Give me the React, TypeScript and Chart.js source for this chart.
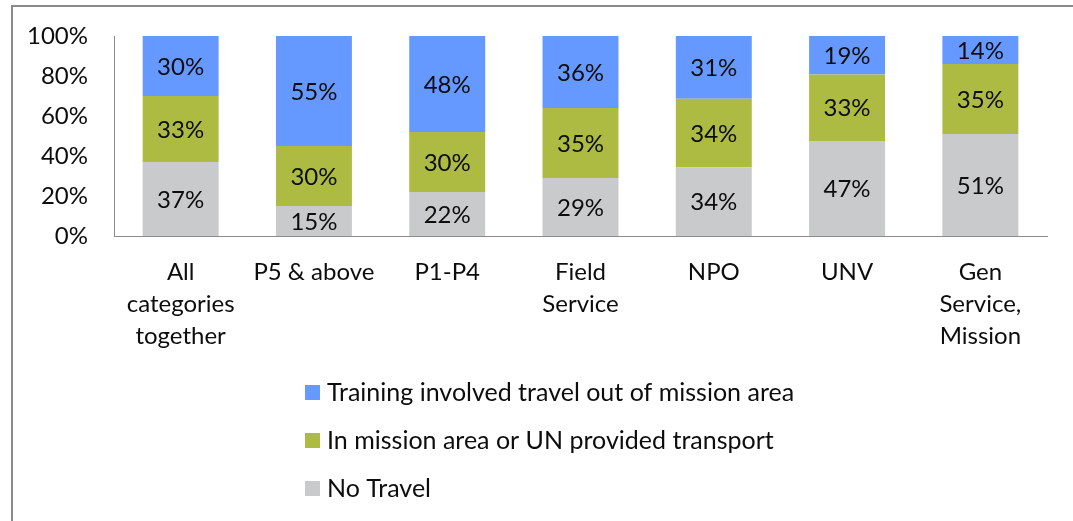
import React, { useEffect, useRef } from "react";
import { Chart, registerables } from "chart.js";

Chart.register(...registerables);

const categories: (string | string[])[] = [
  ["All", "categories", "together"],
  "P5 & above",
  "P1-P4",
  ["Field", "Service"],
  "NPO",
  "UNV",
  ["Gen", "Service,", "Mission"],
];
const noTravel = [37, 15, 22, 29, 34, 47, 51];
const inMission = [33, 30, 30, 35, 34, 33, 35];
const outOfMission = [30, 55, 48, 36, 31, 19, 14];
const seriesLabels = [
  "No Travel",
  "In mission area or UN provided transport",
  "Training involved travel out of mission area",
];
const seriesColors = ["#C9CACC", "#AEBB43", "#6699FF"];
const legendOrder = [2, 1, 0];

const FONT = "Lato";
const FS = 24;
const LEGEND_FS = 25;
const TEXT = "#0d0d0d";

export default function App() {
  const ref = useRef<HTMLCanvasElement | null>(null);

  useEffect(() => {
    if (!ref.current) return;
    const raw = [noTravel, inMission, outOfMission];
    const totals = noTravel.map((_, i) => noTravel[i] + inMission[i] + outOfMission[i]);

    const framePlugin = {
      id: "frame",
      beforeDraw(chart: any) {
        const ctx = chart.ctx;
        ctx.save();
        ctx.strokeStyle = "#8a8a8a";
        ctx.lineWidth = 2;
        ctx.beginPath();
        ctx.moveTo(12, 540);
        ctx.lineTo(12, 6);
        ctx.lineTo(1090, 6);
        ctx.stroke();
        ctx.restore();
      },
    };

    const labelPlugin = {
      id: "valueLabels",
      afterDatasetsDraw(chart: any) {
        const ctx = chart.ctx;
        ctx.save();
        ctx.font = `${FS}px ${FONT}`;
        ctx.fillStyle = TEXT;
        ctx.textAlign = "center";
        ctx.textBaseline = "middle";
        chart.data.datasets.forEach((ds: any, di: number) => {
          const meta = chart.getDatasetMeta(di);
          meta.data.forEach((el: any, i: number) => {
            const cy = (el.y + el.base) / 2;
            ctx.fillText(`${raw[di][i]}%`, el.x, cy + 1);
          });
        });
        ctx.restore();
      },
    };

    const legendPlugin = {
      id: "customLegend",
      afterDraw(chart: any) {
        const ctx = chart.ctx;
        ctx.save();
        ctx.font = `${LEGEND_FS}px ${FONT}`;
        ctx.textBaseline = "middle";
        ctx.textAlign = "left";
        const rows = [392, 440, 488];
        legendOrder.forEach((di, r) => {
          const ds = chart.data.datasets[di];
          ctx.fillStyle = ds.backgroundColor;
          ctx.fillRect(305, rows[r] - 7, 15, 15);
          ctx.fillStyle = TEXT;
          ctx.fillText(ds.label, 327, rows[r] + 1);
        });
        ctx.restore();
      },
    };

    const chart = new Chart(ref.current, {
      type: "bar",
      data: {
        labels: categories,
        datasets: raw.map((arr, di) => ({
          label: seriesLabels[di],
          data: arr.map((v, i) => (v / totals[i]) * 100),
          backgroundColor: seriesColors[di],
          borderWidth: 0,
          categoryPercentage: 0.57,
          barPercentage: 1,
        })),
      },
      options: {
        responsive: false,
        animation: false,
        layout: { padding: { top: 36, left: 0, right: 26, bottom: 0 } },
        plugins: {
          legend: { display: false },
          tooltip: { enabled: false },
          title: { display: false },
        },
        scales: {
          x: {
            stacked: true,
            grid: { display: false, drawTicks: false },
            border: { display: true, color: "#8c8c8c", width: 1 },
            ticks: {
              color: TEXT,
              font: { family: FONT, size: FS, lineHeight: "32px" },
              padding: 20,
              maxRotation: 0,
              autoSkip: false,
            },
            afterFit(scale: any) {
              scale.height = 285;
            },
          },
          y: {
            stacked: true,
            min: 0,
            max: 100,
            grid: { display: false, drawTicks: false },
            border: { display: true, color: "#8c8c8c", width: 1 },
            ticks: {
              stepSize: 20,
              color: TEXT,
              font: { family: FONT, size: FS },
              padding: 26,
              callback: (v: any) => `${v}%`,
            },
            afterFit(scale: any) {
              scale.width = 114;
              scale.paddingTop = 0;
              scale.paddingBottom = 0;
            },
          },
        },
      },
      plugins: [framePlugin, labelPlugin, legendPlugin],
    } as any);

    return () => chart.destroy();
  }, []);

  return (
    <div style={{ position: "absolute", left: 0, top: 0, width: 1073, height: 521, background: "#fff" }}>
      <canvas ref={ref} width={1073} height={521} style={{ display: "block", width: 1073, height: 521 }} />
    </div>
  );
}
